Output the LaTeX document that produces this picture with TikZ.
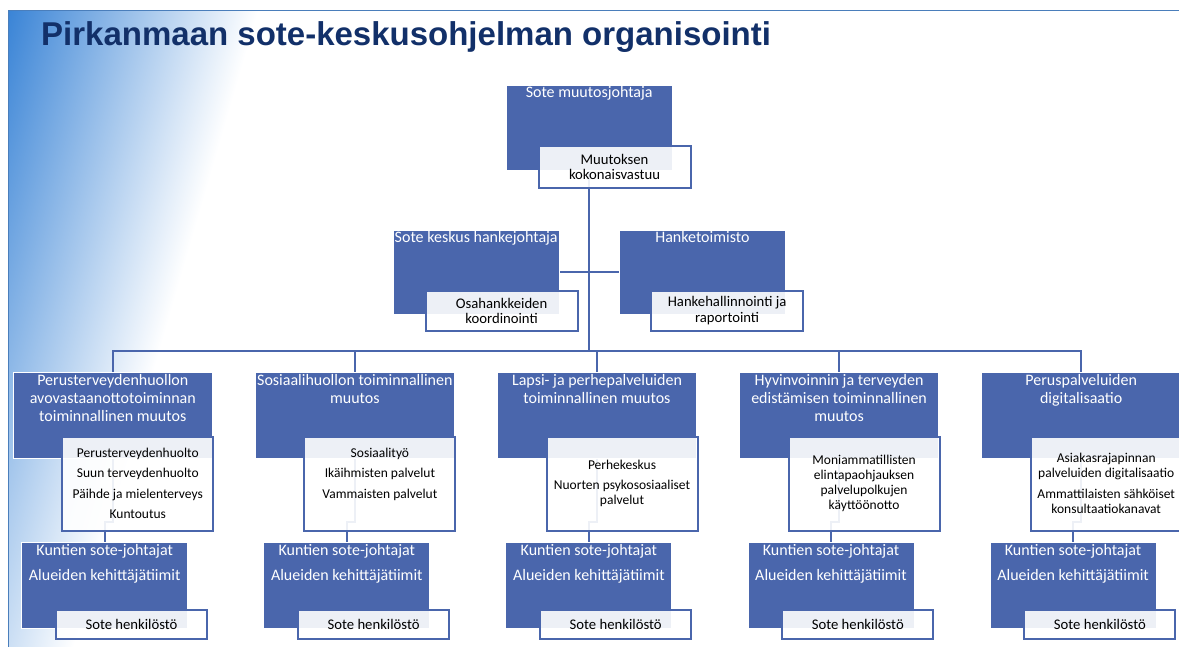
\documentclass[tikz,border=0pt]{standalone}
\usepackage{fontspec}
\setmainfont{Carlito}
\newfontfamily\titlefont{Liberation Sans}
\usepackage{tikz}
\usetikzlibrary{positioning, calc}
\definecolor{sm-blue}{RGB}{74,102,172}
\definecolor{sm-navy}{RGB}{18,48,105}
\definecolor{sm-grad}{RGB}{58,132,214}
\definecolor{sm-frame}{RGB}{74,126,187}
\pgfdeclarelayer{backdrop}
\pgfdeclarelayer{background}
\pgfsetlayers{backdrop,background,main}

\begin{document}
\begin{tikzpicture}[x=1pt, y=1pt,
        bluebox/.style={rectangle, fill=sm-blue, draw=white, line width=1pt,
                        inner sep=0pt, outer sep=0pt,
                        minimum width=166pt, minimum height=85pt},
        colbox/.style={bluebox, minimum width=199pt, minimum height=85.5pt},
        whitebox/.style={rectangle, fill=white, fill opacity=0.9, text opacity=1,
                         draw=sm-blue, line width=2pt, inner sep=0pt, outer sep=0pt,
                         align=center, text=black,
                         minimum width=152pt, minimum height=41pt,
                         font=\fontsize{14.7}{15.5}\selectfont},
        listbox/.style={whitebox, minimum width=151pt, minimum height=94pt,
                        font=\fontsize{13.5}{15}\selectfont},
        staffbox/.style={whitebox, minimum width=151pt, minimum height=29pt},
        head/.style={align=center, text=white, inner sep=0pt,
                     font=\fontsize{16}{18}\selectfont},
        conn/.style={draw=sm-blue, line width=2.2pt}
      ]
        \useasboundingbox (0,0) rectangle (1179,-646);

        % slide backdrop
        \begin{pgfonlayer}{backdrop}
          \begin{scope}
            \clip (8.3,-10.7) rectangle (1179,-646);
            \shade[transform canvas={shift={(8.3,-10.7)}, rotate=-16.2},
                   left color=sm-grad, right color=white]
                  (0,-900) rectangle (240,900);
          \end{scope}
          \draw[sm-frame, line width=1.5pt] (8.3,-10.7) rectangle (1190,-660);
        \end{pgfonlayer}

        \node[anchor=base west, inner sep=0pt, text=sm-navy,
              font=\titlefont\bfseries\fontsize{33}{38}\selectfont] (title)
              at (41,-45.7) {Pirkanmaan sote-keskusohjelman organisointi};

        % top level
        \node[bluebox] (muutos) at (589.2,-127.5) {};
        \node[head, below=1.2pt of muutos.north] (muutos-t) {Sote muutosjohtaja};
        \node[whitebox, anchor=north west, minimum height=42.3pt] (kokon)
              at ($(muutos.north west)+(32.3,-61)$) {Muutoksen\\kokonaisvastuu};

        % assistants
        \node[bluebox, minimum height=84.3pt] (hj) at (476.2,-272.2) {};
        \node[head, below=1.2pt of hj.north] (hj-t) {Sote keskus hankejohtaja};
        \node[whitebox, anchor=north west, minimum height=40pt] (osa)
              at ($(hj.north west)+(32.4,-60.7)$) {Osahankkeiden\\koordinointi};
        \node[bluebox, minimum height=84.3pt, right=60.2pt of hj] (hto) {};
        \node[head, below=1.2pt of hto.north] (hto-t) {Hanketoimisto};
        \node[whitebox, anchor=north west, minimum height=40pt] (hkh)
              at ($(hto.north west)+(31.7,-60.7)$) {Hankehallinnointi ja\\raportointi};

        % change areas
        \node[colbox] (p1) at (112.8,-415.5) {};
        \node[colbox, right=43.1pt of p1] (p2) {};
        \node[colbox, right=43.1pt of p2] (p3) {};
        \node[colbox, right=43.1pt of p3] (p4) {};
        \node[colbox, right=43.1pt of p4] (p5) {};
        \node[head, below=1.2pt of p1.north] (p1-t)
              {Perusterveydenhuollon\\avovastaanottotoiminnan\\toiminnallinen muutos};
        \node[head, below=1.2pt of p2.north] (p2-t) {Sosiaalihuollon toiminnallinen\\muutos};
        \node[head, below=1.2pt of p3.north] (p3-t) {Lapsi- ja perhepalveluiden\\toiminnallinen muutos};
        \node[head, below=1.2pt of p4.north] (p4-t)
              {Hyvinvoinnin ja terveyden\\edistämisen toiminnallinen\\muutos};
        \node[head, below=1.2pt of p5.north] (p5-t) {Peruspalveluiden\\digitalisaatio};

        \node[listbox, anchor=north west] (s1) at ($(p1.north west)+(49,-63.8)$)
              {Perusterveydenhuolto\\[5.5pt]Suun terveydenhuolto\\[5.5pt]Päihde ja mielenterveys\\[5.5pt]Kuntoutus};
        \node[listbox, anchor=north west] (s2) at ($(p2.north west)+(49,-63.8)$)
              {Sosiaalityö\\[5.5pt]Ikäihmisten palvelut\\[5.5pt]Vammaisten palvelut\\[5.5pt]\mbox{}};
        \node[listbox, anchor=north west] (s3) at ($(p3.north west)+(49,-63.8)$)
              {Perhekeskus\\[5.5pt]Nuorten psykososiaaliset\\palvelut};
        \node[listbox, anchor=north west] (s4) at ($(p4.north west)+(49,-63.8)$)
              {Moniammatillisten\\elintapaohjauksen\\palvelupolkujen\\käyttöönotto};
        \node[listbox, anchor=north west] (s5) at ($(p5.north west)+(49,-63.8)$)
              {Asiakasrajapinnan\\palveluiden digitalisaatio\\[5.5pt]Ammattilaisten sähköiset\\konsultaatiokanavat};

        % municipal level
        \node[bluebox, anchor=north west, minimum height=85.6pt] (k1) at ($(p1.north west)+(8.4,-170)$) {};
        \node[bluebox, anchor=north west, minimum height=85.6pt] (k2) at ($(p2.north west)+(8.4,-170)$) {};
        \node[bluebox, anchor=north west, minimum height=85.6pt] (k3) at ($(p3.north west)+(8.4,-170)$) {};
        \node[bluebox, anchor=north west, minimum height=85.6pt] (k4) at ($(p4.north west)+(8.4,-170)$) {};
        \node[bluebox, anchor=north west, minimum height=85.6pt] (k5) at ($(p5.north west)+(8.4,-170)$) {};
        \node[head, below=1.2pt of k1.north] (k1-t) {Kuntien sote-johtajat\\[7pt]Alueiden kehittäjätiimit};
        \node[head, below=1.2pt of k2.north] (k2-t) {Kuntien sote-johtajat\\[7pt]Alueiden kehittäjätiimit};
        \node[head, below=1.2pt of k3.north] (k3-t) {Kuntien sote-johtajat\\[7pt]Alueiden kehittäjätiimit};
        \node[head, below=1.2pt of k4.north] (k4-t) {Kuntien sote-johtajat\\[7pt]Alueiden kehittäjätiimit};
        \node[head, below=1.2pt of k5.north] (k5-t) {Kuntien sote-johtajat\\[7pt]Alueiden kehittäjätiimit};
        \node[staffbox, anchor=north west] (h1) at ($(p1.north west)+(42.7,-236.8)$) {Sote henkilöstö};
        \node[staffbox, anchor=north west] (h2) at ($(p2.north west)+(42.7,-236.8)$) {Sote henkilöstö};
        \node[staffbox, anchor=north west] (h3) at ($(p3.north west)+(42.7,-236.8)$) {Sote henkilöstö};
        \node[staffbox, anchor=north west] (h4) at ($(p4.north west)+(42.7,-236.8)$) {Sote henkilöstö};
        \node[staffbox, anchor=north west] (h5) at ($(p5.north west)+(42.7,-236.8)$) {Sote henkilöstö};

        % connectors behind the boxes
        \begin{pgfonlayer}{background}
          \coordinate (bus) at ([yshift=-180.7pt]muutos.south);
          \draw[conn] (muutos.south) -- (bus);
          \draw[conn] (hj.east) -- (hto.west);
          \draw[conn] (bus) -| (p1.north);
          \draw[conn] (bus) -| (p2.north);
          \draw[conn] (bus) -| (p3.north);
          \draw[conn] (bus) -| (p4.north);
          \draw[conn] (bus) -| (p5.north);
          \draw[conn] (p1.south) -- ++(0,-63.5) -| (k1.north);
          \draw[conn] (p2.south) -- ++(0,-63.5) -| (k2.north);
          \draw[conn] (p3.south) -- ++(0,-63.5) -| (k3.north);
          \draw[conn] (p4.south) -- ++(0,-63.5) -| (k4.north);
          \draw[conn] (p5.south) -- ++(0,-63.5) -| (k5.north);
        \end{pgfonlayer}
      \end{tikzpicture}
\end{document}
